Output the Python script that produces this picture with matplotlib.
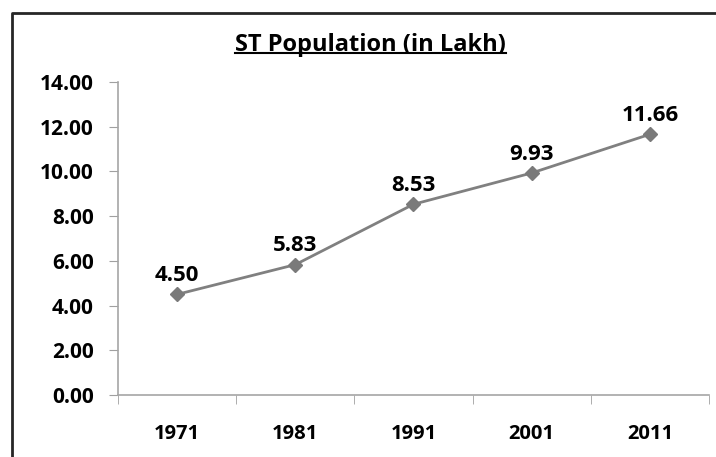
import numpy as np
import matplotlib.pyplot as plt
from matplotlib.lines import Line2D

years = ["1971", "1981", "1991", "2001", "2011"]
population = [4.50, 5.83, 8.53, 9.93, 11.66]
yticks = [0, 2, 4, 6, 8, 10, 12, 14]

plt.rcParams["font.family"] = ["Open Sans", "DejaVu Sans"]

fig = plt.figure(figsize=(7.16, 4.57), dpi=100)
ax = fig.add_axes([0.1648, 0.1357, 0.8254, 0.6849])

x = np.arange(len(years))
ax.plot(x, population, color="#808080", lw=2, marker="D", ms=7,
        markerfacecolor="#7a7a7a", markeredgecolor="#7a7a7a")

for xi, v in zip(x, population):
    ax.annotate(f"{v:.2f}", (xi, v), xytext=(0, 9.5), textcoords="offset points",
                ha="center", va="baseline", fontsize=16, fontweight="bold")

ax.set_xlim(-0.5, len(years) - 0.5)
ax.set_ylim(0, 14)
ax.set_yticks(yticks)
ax.set_yticklabels([f"{t:.2f}" for t in yticks], fontsize=15, fontweight="bold")
ax.set_xticks(x)
ax.set_xticklabels(years, fontsize=14.5, fontweight="bold")
ax.set_xticks(np.arange(len(years) + 1) - 0.5, minor=True)
ax.tick_params(axis="x", which="major", length=0, pad=21)
ax.tick_params(axis="x", which="minor", length=6.5, color="#a0a0a0")
ax.tick_params(axis="y", length=6.5, color="#a0a0a0", pad=11)
for s in ["top", "right"]:
    ax.spines[s].set_visible(False)
for s in ["left", "bottom"]:
    ax.spines[s].set_color("#a6a6a6")
    ax.spines[s].set_linewidth(1.2)

title = fig.text(0.517, 0.888, "ST Population (in Lakh)", ha="center", va="baseline",
                 fontsize=17, fontweight="bold")

# underline the title
fig.canvas.draw()
bb = title.get_window_extent().transformed(fig.transFigure.inverted())
uy = 1 - 53 / 457
fig.add_artist(Line2D([bb.x0, bb.x1], [uy, uy],
                      transform=fig.transFigure, color="black", lw=1.5))

# chart border (left and top)
fig.add_artist(Line2D([12 / 716, 12 / 716, 1.0], [0.0, 1 - 13 / 457, 1 - 13 / 457],
                      transform=fig.transFigure, color="#262626", lw=2))

fig.savefig("out.png", dpi=100, facecolor="white")
